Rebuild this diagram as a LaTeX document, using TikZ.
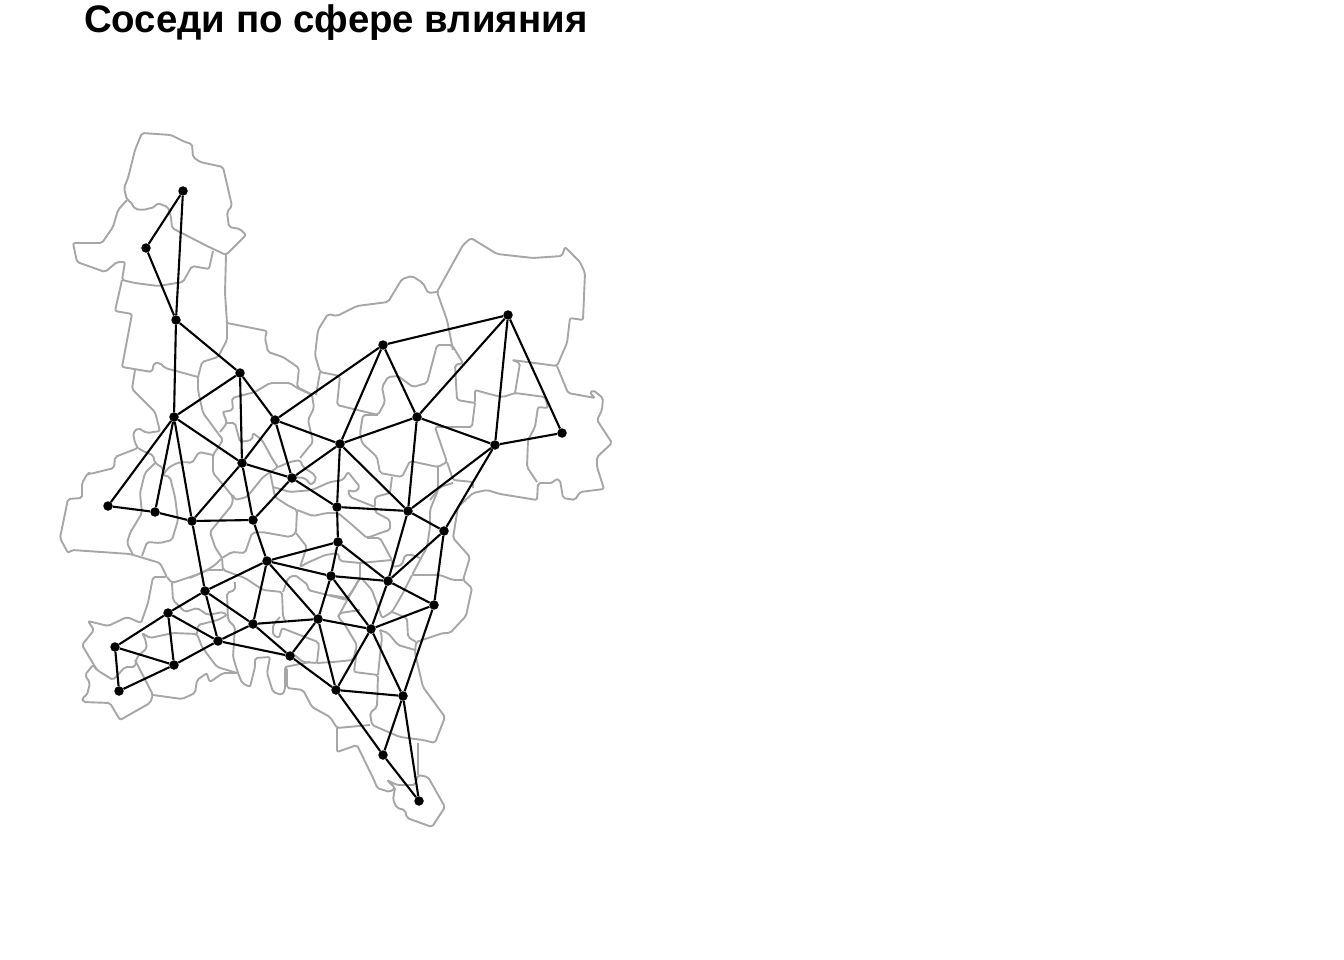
\documentclass[tikz,border=0pt]{standalone}
\usepackage{fontspec}
\setmainfont{Liberation Sans}
\begin{document}
\begin{tikzpicture}[x=1pt,y=-1pt,city/.style={shape=circle,fill=black,inner sep=0pt,minimum size=9.5pt},road/.style={line width=2.1pt,black},rayon/.style={line width=1.9pt,draw=gray!70,line join=round,rounded corners=2pt},heading/.style={anchor=base west,inner sep=0pt,font=\bfseries\fontsize{38.4}{38.4}\selectfont}]
\useasboundingbox (0,0) rectangle (1344,960);

\node[heading] (title) at (84,33) {Соседи по сфере влияния};

% north
\draw[rayon] (127,200) -- (124,188) -- (128,178) -- (135,150) -- (142,133) -- (171,135) -- (185,142) -- (192,144) -- (193,157) -- (200,162) -- (223,167) -- (232,206) -- (227,212) -- (229,227) -- (240,229) -- (246,235) -- (226,255) -- (207,246) -- (172,228) -- (171,217) -- (168,207) -- (157,203) -- (155,207) -- (143,210) -- (135,209) -- (130,201) -- cycle;
\draw[rayon] (127,200) -- (118,210) -- (113,227) -- (102,243) -- (73,243) -- (77,262) -- (105,272) -- (117,262) -- (125,262) -- (122,280) -- (135,283) -- (158,286) -- (183,282) -- (192,266) -- (209,269) -- (213,251);
\draw[rayon] (122,280) -- (115,311) -- (132,314) -- (122,367) -- (152,372) -- (154,363) -- (160,363) -- (165,368) -- (198,377);
\draw[rayon] (226,255) -- (225,293) -- (227,323) -- (227,340) -- (218,357) -- (202,362) -- (198,377) -- (198,390) -- (203,413) -- (223,440) -- (213,455) -- (213,473) -- (225,487) -- (233,497) -- (232,505) -- (210,532) -- (215,547) -- (222,558);
\draw[rayon] (227,323) -- (267,331) -- (265,338) -- (268,352) -- (283,357) -- (299,368) -- (297,387) -- (313,395);
\draw[rayon] (135,370) -- (132,389) -- (143,400) -- (155,412) -- (160,431) -- (147,433) -- (138,428) -- (133,433) -- (135,443) -- (138,448) -- (115,457) -- (114,468) -- (90,474) -- (88,473) -- (82,483) -- (82,498) -- (68,499) -- (60,538) -- (68,553) -- (72,550) -- (130,554) -- (140,557) -- (160,563) -- (167,577) -- (153,577) -- (148,603) -- (141,623) -- (127,617) -- (108,626) -- (88,621) -- (94,630) -- (82,645) -- (97,670) -- (113,680) -- (125,667) -- (135,667) -- (137,657) -- (147,648) -- (145,638) -- (142,633) -- (150,638) -- (173,633) -- (197,634) -- (202,647) -- (217,667) -- (237,673);
% west
\draw[rayon] (138,448) -- (145,452) -- (153,455) -- (155,463) -- (163,468) -- (163,475);
\draw[rayon] (163,475) -- (168,468) -- (177,463) -- (185,462) -- (192,463) -- (199,452) -- (213,455);
\draw[rayon] (155,463) -- (145,473) -- (140,493) -- (142,513) -- (130,533) -- (127,543) -- (133,555);
\draw[rayon] (163,475) -- (170,477) -- (175,497) -- (178,520) -- (172,540) -- (160,543) -- (147,542) -- (142,556);
\draw[rayon] (167,577) -- (172,583) -- (202,573) -- (215,565) -- (222,558) -- (223,570) -- (245,578) -- (263,590) -- (282,592) -- (283,617) -- (285,620);
\draw[rayon] (172,583) -- (173,600) -- (185,612) -- (197,608) -- (208,615) -- (223,612) -- (227,615) -- (218,620) -- (198,625) -- (197,634);
\draw[rayon] (223,570) -- (207,570) -- (190,578);
\draw[rayon] (235,582) -- (235,590) -- (227,593) -- (228,620) -- (235,627) -- (233,657) -- (238,673) -- (242,683) -- (250,687) -- (255,667) -- (255,658) -- (270,657) -- (267,673) -- (273,692) -- (282,695) -- (285,690) -- (285,667) -- (310,662);
\draw[rayon] (97,670) -- (93,665) -- (85,675) -- (90,683) -- (87,695) -- (82,698) -- (83,702) -- (110,703) -- (120,720) -- (150,703) -- (153,695) -- (135,660);
\draw[rayon] (153,695) -- (182,699) -- (195,693) -- (197,680) -- (207,673) -- (208,678) -- (210,682) -- (223,673) -- (237,673);
% centre
\draw[rayon] (223,412) -- (233,410) -- (232,398) -- (255,392) -- (270,383) -- (290,383) -- (297,388) -- (312,395) -- (314,408) -- (308,420) -- (313,442) -- (300,458);
\draw[rayon] (220,432) -- (227,423) -- (223,412);
\draw[rayon] (227,423) -- (235,423) -- (240,442) -- (252,440) -- (253,433) -- (262,440) -- (273,460) -- (278,467) -- (263,477) -- (247,497) -- (235,500) -- (233,495);
\draw[rayon] (270,472) -- (273,487) -- (275,497) -- (287,505) -- (297,510) -- (296,533) -- (290,537) -- (262,532) -- (252,533) -- (245,553) -- (232,552) -- (222,558);
\draw[rayon] (278,467) -- (290,462) -- (300,460) -- (303,467) -- (315,475) -- (316,480) -- (311,485) -- (305,478) -- (292,477);
\draw[rayon] (273,487) -- (290,492) -- (312,490) -- (330,482) -- (343,480) -- (348,472) -- (360,487) -- (355,492) -- (348,490) -- (350,497) -- (375,507) -- (375,497) -- (390,493) -- (392,477);
\draw[rayon] (297,510) -- (313,516) -- (327,513) -- (338,513) -- (350,523) -- (367,538) -- (383,532) -- (390,530) -- (390,520) -- (375,512) -- (375,507);
\draw[rayon] (296,533) -- (307,547) -- (305,552) -- (300,567) -- (307,563) -- (325,555) -- (338,553) -- (340,561) -- (360,563) -- (392,560) -- (380,538) -- (367,538);
\draw[rayon] (283,592) -- (288,578) -- (295,575) -- (308,585) -- (308,590) -- (347,600) -- (357,583) -- (360,578) -- (360,563);
\draw[rayon] (280,617) -- (273,625) -- (273,635) -- (279,638) -- (282,628) -- (292,632) -- (318,642) -- (319,645) -- (317,663) -- (303,662) -- (292,653);
\draw[rayon] (360,610) -- (340,613) -- (338,617) -- (345,625) -- (357,645) -- (353,660) -- (333,662) -- (317,663);
\draw[rayon] (360,578) -- (350,595) -- (338,617);
\draw[rayon] (330,595) -- (347,598) -- (353,590);
% north east
\draw[rayon] (437,292) -- (428,293) -- (423,283) -- (412,276) -- (402,279) -- (388,302) -- (357,306) -- (337,316) -- (328,314) -- (318,330) -- (315,355) -- (320,372) -- (340,376) -- (337,405) -- (378,415) -- (385,402) -- (382,387) -- (388,377) -- (398,376) -- (413,387) -- (427,383) -- (437,345) -- (452,345) -- (463,363) -- (455,365) -- (457,400) -- (475,403) -- (475,390) -- (493,395) -- (503,397) -- (515,393) -- (545,397) -- (548,408) -- (538,407) -- (535,427) -- (528,440) -- (527,467) -- (537,482);
\draw[rayon] (320,372) -- (316,395);
\draw[rayon] (515,393) -- (520,363) -- (512,360) -- (557,366) -- (567,343) -- (570,318) -- (583,320) -- (585,273) -- (580,262) -- (565,247) -- (562,256) -- (533,258) -- (497,254) -- (471,238) -- (463,245) -- (437,292) -- (447,320) -- (453,350);
\draw[rayon] (557,366) -- (568,393) -- (595,398) -- (590,393) -- (593,390) -- (603,398) -- (602,410) -- (597,420) -- (612,443) -- (597,457) -- (597,467) -- (604,489) -- (580,492) -- (575,500) -- (563,498) -- (560,480) -- (555,479) -- (553,483) -- (538,483) -- (537,500) -- (500,494) -- (487,490) -- (473,493) -- (458,507) -- (453,538) -- (470,557) -- (463,580) -- (472,588) -- (466,616) -- (450,633) -- (443,633) -- (416,642) -- (415,653) -- (423,687) -- (445,717) -- (435,743) -- (423,740) -- (400,737) -- (372,725) -- (370,713) -- (377,707) -- (378,675) -- (354,672) -- (357,650);
\draw[rayon] (378,415) -- (363,415) -- (360,433) -- (362,443) -- (377,457) -- (380,473) -- (402,477) -- (410,461) -- (438,467) -- (447,462) -- (437,433) -- (435,427) -- (472,427) -- (475,403);
\draw[rayon] (438,467) -- (438,490) -- (430,510) -- (430,527) -- (427,547) -- (412,575) -- (423,575) -- (440,575) -- (453,580) -- (463,580);
\draw[rayon] (447,462) -- (453,480) -- (473,482) -- (473,488);
\draw[rayon] (430,500) -- (440,487) -- (453,483);
\draw[rayon] (392,560) -- (393,567) -- (402,565) -- (405,555) -- (413,555) -- (420,558);
\draw[rayon] (363,580) -- (372,590) -- (382,618) -- (392,612) -- (403,593) -- (412,575);
\draw[rayon] (392,612) -- (407,618) -- (408,637) -- (416,642);
\draw[rayon] (380,630) -- (388,633) -- (398,645) -- (415,650);
\draw[rayon] (380,630) -- (382,637) -- (378,675);
% south
\draw[rayon] (285,667) -- (287,668) -- (287,688) -- (303,690) -- (312,707) -- (330,717) -- (337,728) -- (370,725);
\draw[rayon] (337,728) -- (337,752) -- (357,745) -- (375,782) -- (377,788) -- (390,792) -- (395,788) -- (387,780) -- (397,785) -- (415,785) -- (418,775) -- (428,777) -- (445,807) -- (432,827) -- (407,818) -- (405,810) -- (397,808) -- (393,800) -- (395,788);
\draw[rayon] (418,775) -- (418,743);

\node[city] (a) at (183,191) {};
\node[city] (b) at (146,248) {};
\node[city] (c) at (176,320) {};
\node[city] (d) at (240,373) {};
\node[city] (e) at (174,417) {};
\node[city] (f) at (275,420) {};
\node[city] (g) at (242,463) {};
\node[city] (h) at (292,478) {};
\node[city] (i) at (108,506) {};
\node[city] (j) at (155,512) {};
\node[city] (k) at (192,521) {};
\node[city] (l) at (253,520) {};
\node[city] (m) at (340,444) {};
\node[city] (n) at (383,345) {};
\node[city] (o) at (417,417) {};
\node[city] (p) at (508,315) {};
\node[city] (q) at (495,445) {};
\node[city] (r) at (562,433) {};
\node[city] (s) at (337,507) {};
\node[city] (t) at (408,511) {};
\node[city] (u) at (444,531) {};
\node[city] (v) at (338,542) {};
\node[city] (w) at (267,561) {};
\node[city] (x) at (331,576) {};
\node[city] (y) at (388,581) {};
\node[city] (z) at (434,605) {};
\node[city] (aa) at (205,591) {};
\node[city] (ab) at (168,613) {};
\node[city] (ac) at (115,647) {};
\node[city] (ad) at (174,665) {};
\node[city] (ae) at (119,691) {};
\node[city] (af) at (218,641) {};
\node[city] (ag) at (253,624) {};
\node[city] (ah) at (318,619) {};
\node[city] (ai) at (371,629) {};
\node[city] (aj) at (290,656) {};
\node[city] (ak) at (336,690) {};
\node[city] (al) at (403,696) {};
\node[city] (am) at (383,755) {};
\node[city] (an) at (419,801) {};

\draw[road] (a) -- (b);
\draw[road] (a) -- (c);
\draw[road] (b) -- (c);
\draw[road] (c) -- (d);
\draw[road] (c) -- (e);
\draw[road] (d) -- (e);
\draw[road] (d) -- (g);
\draw[road] (d) -- (f);
\draw[road] (e) -- (g);
\draw[road] (e) -- (i);
\draw[road] (e) -- (j);
\draw[road] (e) -- (k);
\draw[road] (f) -- (g);
\draw[road] (f) -- (h);
\draw[road] (f) -- (m);
\draw[road] (f) -- (n);
\draw[road] (g) -- (h);
\draw[road] (g) -- (k);
\draw[road] (g) -- (l);
\draw[road] (h) -- (l);
\draw[road] (h) -- (m);
\draw[road] (h) -- (s);
\draw[road] (i) -- (j);
\draw[road] (j) -- (k);
\draw[road] (k) -- (l);
\draw[road] (k) -- (aa);
\draw[road] (l) -- (w);
\draw[road] (m) -- (n);
\draw[road] (m) -- (o);
\draw[road] (m) -- (s);
\draw[road] (m) -- (t);
\draw[road] (n) -- (o);
\draw[road] (n) -- (p);
\draw[road] (o) -- (p);
\draw[road] (o) -- (q);
\draw[road] (o) -- (t);
\draw[road] (p) -- (q);
\draw[road] (p) -- (r);
\draw[road] (q) -- (r);
\draw[road] (q) -- (t);
\draw[road] (q) -- (u);
\draw[road] (s) -- (t);
\draw[road] (s) -- (v);
\draw[road] (t) -- (u);
\draw[road] (t) -- (y);
\draw[road] (u) -- (y);
\draw[road] (u) -- (z);
\draw[road] (v) -- (w);
\draw[road] (v) -- (x);
\draw[road] (v) -- (y);
\draw[road] (w) -- (x);
\draw[road] (w) -- (aa);
\draw[road] (w) -- (ag);
\draw[road] (w) -- (ah);
\draw[road] (x) -- (y);
\draw[road] (x) -- (ah);
\draw[road] (x) -- (ai);
\draw[road] (y) -- (z);
\draw[road] (y) -- (ai);
\draw[road] (z) -- (ai);
\draw[road] (z) -- (al);
\draw[road] (aa) -- (ab);
\draw[road] (aa) -- (af);
\draw[road] (aa) -- (ag);
\draw[road] (ab) -- (ac);
\draw[road] (ab) -- (ad);
\draw[road] (ab) -- (af);
\draw[road] (ac) -- (ad);
\draw[road] (ac) -- (ae);
\draw[road] (ad) -- (ae);
\draw[road] (ad) -- (af);
\draw[road] (af) -- (ag);
\draw[road] (af) -- (aj);
\draw[road] (ag) -- (ah);
\draw[road] (ag) -- (aj);
\draw[road] (ah) -- (aj);
\draw[road] (ah) -- (ai);
\draw[road] (ah) -- (ak);
\draw[road] (ai) -- (ak);
\draw[road] (ai) -- (al);
\draw[road] (aj) -- (ak);
\draw[road] (ak) -- (al);
\draw[road] (ak) -- (am);
\draw[road] (al) -- (am);
\draw[road] (al) -- (an);
\draw[road] (am) -- (an);
\end{tikzpicture}
\end{document}
